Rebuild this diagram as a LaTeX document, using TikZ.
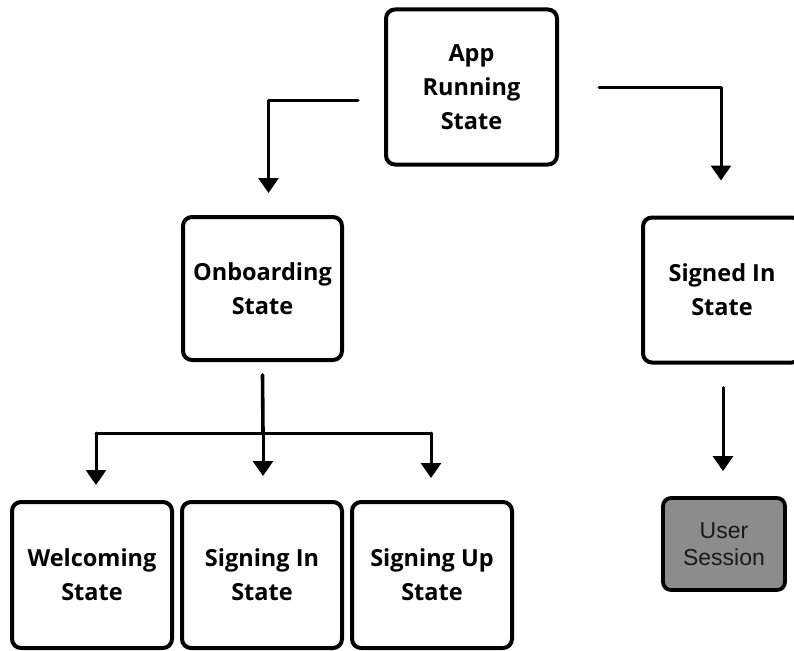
\documentclass[tikz,border=0pt]{standalone}
\usepackage{fontspec}
\setmainfont{Open Sans}[BoldFont={Open Sans Bold}]
\newfontfamily\arialfont{Liberation Sans}
\usetikzlibrary{arrows.meta,calc}
\begin{document}
\begin{tikzpicture}[x=1pt,y=-1pt,
  statebox/.style={draw=black,line width=4pt,rounded corners=9pt,align=center,
    font=\fontsize{23.5}{34}\selectfont\bfseries,inner sep=0pt},
  sessbox/.style={draw=black,line width=3.8pt,rounded corners=8pt,fill=sessgray,align=center,
    font=\arialfont\fontsize{23}{27}\selectfont,text=black!90,inner sep=0pt},
  conn/.style={line width=3pt,line cap=round,line join=round},
  arr/.style={conn,-{Triangle[width=20pt,length=15pt]}},
]
\definecolor{sessgray}{HTML}{8C8C8C}
\useasboundingbox (0,0) rectangle (794,650);
\clip (0,0) rectangle (794,650);

\node[statebox,minimum width=171pt,minimum height=155pt] (app) at (471.5,87) {App\\Running\\State};
\node[statebox,minimum width=159pt,minimum height=143pt] (onb) at (262.5,288.5) {Onboarding\\State};
\node[statebox,minimum width=158pt,minimum height=145pt] (sig) at (722,290) {Signed In\\State};
\node[sessbox,minimum width=122pt,minimum height=92pt] (ses) at (724,544) {User\\Session};
\node[statebox,minimum width=160pt,minimum height=146pt] (wel) at (92,575) {Welcoming\\State};
\node[statebox,minimum width=160pt,minimum height=146pt] (sin) at (262,575) {Signing In\\State};
\node[statebox,minimum width=160pt,minimum height=146pt] (sup) at (432,575) {Signing Up\\State};

% connectors from App Running State
\coordinate (al) at ($(app.west)+(-26,14)$);
\coordinate (ar) at ($(app.east)+(40,1)$);
\draw[arr] (al) -| ($(onb.north)+(6,-22)$);
\draw[arr] (ar) -| ($(sig.north)+(-1,-35)$);

% Signed In -> User Session
\coordinate (ss) at ($(sig.south)+(1,23)$);
\draw[arr] (ss) -- ($(ses.north)+(-1,-25)$);

% Onboarding tree
\coordinate (os) at ($(onb.south)+(0,13)$);
\coordinate (jn) at (263,433);
\coordinate (jl) at (96,433);
\coordinate (jr) at (431,433);
\draw[conn,line width=3.6pt] (os) -- (jn);
\draw[conn] (jl) -- (jr);
\draw[arr] (jl) -- ($(wel.north)+(4,-15)$);
\draw[arr] (jn) -- ($(sin.north)+(1,-24)$);
\draw[arr] (jr) -- ($(sup.north)+(-1,-22)$);
\end{tikzpicture}
\end{document}
